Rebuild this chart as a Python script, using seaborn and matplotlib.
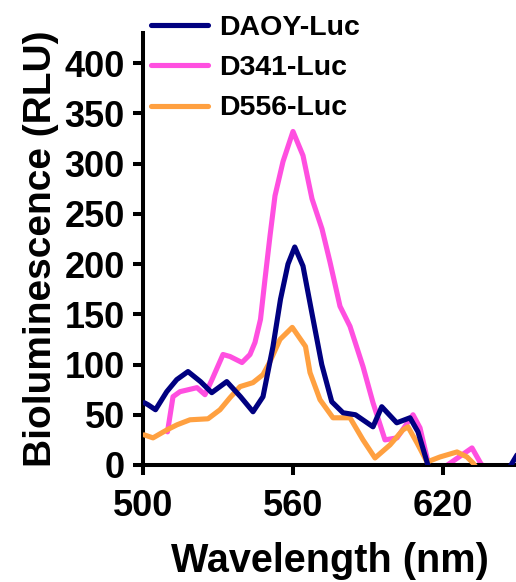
import numpy as np
import matplotlib
matplotlib.use("Agg")
import matplotlib.pyplot as plt
import seaborn as sns

# Emission spectra (wavelength in nm, RLU)
daoy_nm = [500.5, 502, 505, 509.5, 513.5, 518, 523, 527.5, 533.5, 539, 544, 548, 552,
           555, 558, 560.7, 564, 567.5, 571.5, 575.5, 580, 585, 592, 595.5, 601.5,
           606.8, 610, 613.6, 616, np.nan, 646, 652]
daoy_rlu = [62, 60, 55, 73, 85, 93, 83, 72, 83, 68, 53, 68, 118,
            165, 200, 217, 198, 152, 100, 63, 52, 50, 38, 58, 42,
            47, 33, 3, -20, np.nan, -5, 20]

d341_nm = [509.8, 512, 514.8, 521.6, 524.8, 527.6, 532, 534.8, 539.6, 542.8, 544.8, 547,
           548.8, 550.8, 552.8, 556, 560, 564, 567.6, 571.6, 574.8, 578.8, 582.8, 588,
           592, 596.8, 601.6, 608, 610.8, 614, 616, np.nan, 631.6, 635, 637]
d341_rlu = [33, 68, 73, 77, 70, 85, 110, 108, 102, 110, 122, 145,
            185, 228, 268, 302, 332, 308, 265, 235, 202, 158, 138, 98,
            62, 25, 27, 50, 37, 3, -10, np.nan, 17, 2, -5]

d556_nm = [500.5, 504, 509.6, 513.6, 518.8, 526, 530.8, 534.8, 538.8, 544, 548, 550.8,
           554.8, 559.7, 565, 566.8, 570.8, 576, 582.8, 588, 592.8, 598.8, 604, 606,
           609.6, 613.6, 618.8, 625.6, 629.6, 632, 634]
d556_rlu = [30, 27, 35, 40, 45, 46, 55, 67, 78, 82, 90, 103,
            125, 137, 118, 92, 65, 47, 47, 25, 7, 20, 35, 38,
            22, 3, 8, 13, 8, 2, -5]

labels = ["DAOY-Luc", "D341-Luc", "D556-Luc"]
colors = ["#000080", "#FF4FE0", "#FFA040"]

xticks = [500, 560, 620]
yticks = list(range(0, 401, 50))

sns.set_style("ticks")
plt.rcParams["font.family"] = ["Liberation Sans", "DejaVu Sans"]
plt.rcParams["font.weight"] = "bold"
plt.rcParams["text.color"] = "black"
plt.rcParams["axes.labelcolor"] = "black"
plt.rcParams["xtick.color"] = "black"
plt.rcParams["ytick.color"] = "black"
plt.rcParams["axes.edgecolor"] = "black"

fig = plt.figure(figsize=(5.16, 5.82), dpi=100)
ax = fig.add_axes([143 / 516, 117 / 582, 373 / 516, 432 / 582])

series = [(daoy_nm, daoy_rlu), (d341_nm, d341_rlu), (d556_nm, d556_rlu)]
zorders = [4, 2, 3]
for (xs, ys), lab, col, z in zip(series, labels, colors, zorders):
    sns.lineplot(x=xs, y=ys, ax=ax, color=col, linewidth=3.7, label=lab,
                 sort=False, estimator=None, zorder=z)

ax.set_xlim(500, 649.2)
ax.set_ylim(0, 430)
ax.set_xticks(xticks)
ax.set_yticks(yticks)
ax.tick_params(axis="both", which="major", length=7, width=2.9, labelsize=26,
               direction="out", colors="black")
ax.tick_params(axis="x", pad=10)
ax.tick_params(axis="y", pad=6)
for lbl in ax.get_xticklabels() + ax.get_yticklabels():
    lbl.set_fontweight("bold")

for side in ["top", "right"]:
    ax.spines[side].set_visible(False)
for side in ["left", "bottom"]:
    ax.spines[side].set_linewidth(2.9)
    ax.spines[side].set_color("black")

ax.set_xlabel("Wavelength (nm)", fontsize=28.5, fontweight="bold", labelpad=13)
ax.set_ylabel("Bioluminescence (RLU)", fontsize=28, fontweight="bold", labelpad=4)

handles, _ = ax.get_legend_handles_labels()
leg = ax.legend(handles, labels, loc="upper left",
                bbox_to_anchor=(151 / 516, 1 - 15 / 582),
                bbox_transform=fig.transFigure, frameon=False,
                handlelength=2.0, handletextpad=0.4,
                labelspacing=0.5, borderpad=0, borderaxespad=0,
                prop={"weight": "bold", "size": 20.5})
for ln in leg.get_lines():
    ln.set_linewidth(3.7)

fig.savefig("out.png", dpi=100)
